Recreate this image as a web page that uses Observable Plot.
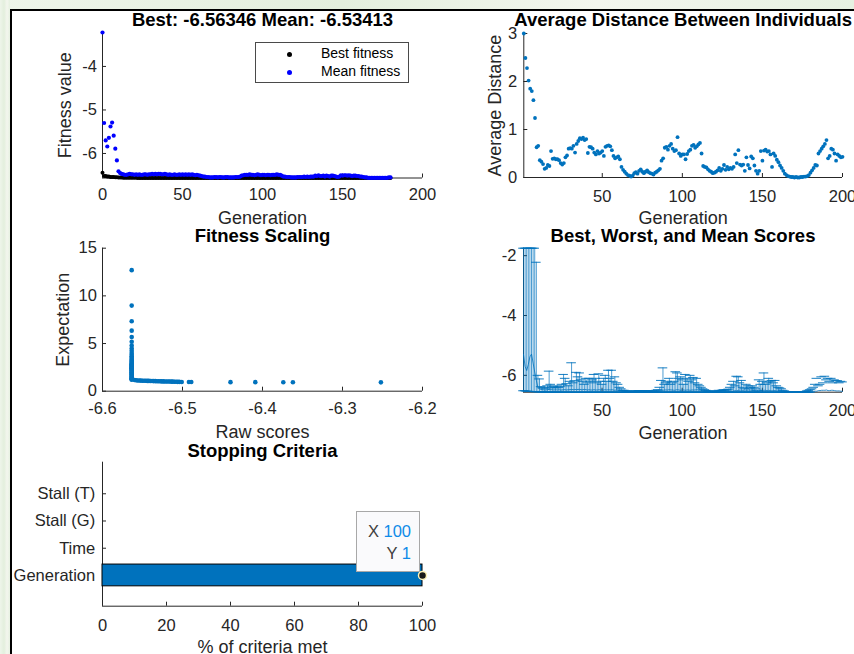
<!DOCTYPE html>
<html><head><meta charset="utf-8">
<script src="https://cdn.jsdelivr.net/npm/d3@7"></script>
<script src="https://cdn.jsdelivr.net/npm/@observablehq/plot@0.6"></script>
<style>
body{margin:0;background:#fff;}
#root{position:relative;width:854px;height:654px;overflow:hidden;background:#fff;font-family:"Liberation Sans",Arial,Helvetica,sans-serif;}
.panel{position:absolute;}
.panel g[aria-label$="tick label"] text{font-size:16.5px;}
.strip{position:absolute;background:linear-gradient(90deg,#eef5ea,#e3efdd 40%,#f3f6ee 70%,#e6f1e1);}
.legend{position:absolute;border:1px solid #4a4a4a;background:#fff;font-size:14px;color:#000;}
.legend .mk{position:absolute;width:5px;height:5px;border-radius:50%;}
.legend .lb{position:absolute;white-space:nowrap;}
.tip{position:absolute;background:#fafafc;border:1px solid #a8a8a8;font-size:16.5px;color:#404040;}
.tip div{position:absolute;right:8px;white-space:nowrap;}
.tip span{color:#0f8be8;}
</style></head><body><div id="root"></div><script>
// ---------------- data ----------------
// Panel 1: best / mean fitness per generation (0..200)
const bestFitness = [-6.440,
-6.515,-6.515,-6.530,-6.530,-6.538,-6.540,-6.540,-6.545,-6.548,-6.550,
-6.552,-6.552,-6.555,-6.555,-6.556,-6.558,-6.558,-6.559,-6.560,-6.560,
-6.560,-6.561,-6.561,-6.561,-6.562,-6.562,-6.562,-6.562,-6.563,-6.563,
-6.5635,-6.5635,-6.5635,-6.5635,-6.5635,-6.5635,-6.5635,-6.5635,-6.5635,-6.5635,
-6.5635,-6.5635,-6.5635,-6.5635,-6.5635,-6.5635,-6.5635,-6.5635,-6.5635,-6.5635,
-6.5635,-6.5635,-6.5635,-6.5635,-6.5635,-6.5635,-6.5635,-6.5635,-6.5635,-6.5635,
-6.5635,-6.5635,-6.5635,-6.5635,-6.5635,-6.5635,-6.5635,-6.5635,-6.5635,-6.5635,
-6.5635,-6.5635,-6.5635,-6.5635,-6.5635,-6.5635,-6.5635,-6.5635,-6.5635,-6.5635,
-6.5635,-6.5635,-6.5635,-6.5635,-6.5635,-6.5635,-6.5635,-6.5635,-6.5635,-6.5635,
-6.5635,-6.5635,-6.5635,-6.5635,-6.5635,-6.5635,-6.5635,-6.5635,-6.5635,-6.5635,
-6.5635,-6.5635,-6.5635,-6.5635,-6.5635,-6.5635,-6.5635,-6.5635,-6.5635,-6.5635,
-6.5635,-6.5635,-6.5635,-6.5635,-6.5635,-6.5635,-6.5635,-6.5635,-6.5635,-6.5635,
-6.5635,-6.5635,-6.5635,-6.5635,-6.5635,-6.5635,-6.5635,-6.5635,-6.5635,-6.5635,
-6.5635,-6.5635,-6.5635,-6.5635,-6.5635,-6.5635,-6.5635,-6.5635,-6.5635,-6.5635,
-6.5635,-6.5635,-6.5635,-6.5635,-6.5635,-6.5635,-6.5635,-6.5635,-6.5635,-6.5635,
-6.5635,-6.5635,-6.5635,-6.5635,-6.5635,-6.5635,-6.5635,-6.5635,-6.5635,-6.5635,
-6.5635,-6.5635,-6.5635,-6.5635,-6.5635,-6.5635,-6.5635,-6.5635,-6.5635,-6.5635,
-6.5635,-6.5635,-6.5635,-6.5635,-6.5635,-6.5635,-6.5635,-6.5635,-6.5635,-6.56346];

const meanFitness = [-3.22,
-5.30,-5.70,-5.84,-5.64,-5.38,-5.29,-5.59,-5.89,-6.16,-6.41,
-6.45,-6.47,-6.48,-6.49,-6.49,-6.48,-6.47,-6.48,-6.48,-6.49,
-6.48,-6.49,-6.48,-6.49,-6.49,-6.48,-6.48,-6.49,-6.48,-6.48,
-6.47,-6.48,-6.47,-6.48,-6.47,-6.47,-6.48,-6.48,-6.47,-6.48,
-6.49,-6.48,-6.49,-6.49,-6.48,-6.49,-6.49,-6.48,-6.49,-6.48,
-6.49,-6.48,-6.49,-6.48,-6.49,-6.48,-6.49,-6.50,-6.49,-6.50,
-6.51,-6.52,-6.53,-6.53,-6.54,-6.54,-6.55,-6.55,-6.55,-6.54,
-6.54,-6.55,-6.54,-6.54,-6.55,-6.55,-6.54,-6.54,-6.55,-6.55,
-6.55,-6.55,-6.54,-6.54,-6.54,-6.53,-6.51,-6.50,-6.49,-6.49,
-6.49,-6.48,-6.49,-6.49,-6.50,-6.49,-6.48,-6.49,-6.50,-6.49,
-6.49,-6.50,-6.49,-6.49,-6.50,-6.49,-6.49,-6.49,-6.48,-6.49,
-6.49,-6.51,-6.53,-6.53,-6.54,-6.54,-6.54,-6.55,-6.55,-6.55,
-6.55,-6.54,-6.54,-6.54,-6.54,-6.53,-6.54,-6.53,-6.54,-6.53,
-6.53,-6.53,-6.51,-6.52,-6.50,-6.52,-6.52,-6.51,-6.53,-6.51,
-6.52,-6.53,-6.51,-6.51,-6.52,-6.53,-6.54,-6.53,-6.50,-6.51,
-6.50,-6.50,-6.51,-6.50,-6.51,-6.52,-6.51,-6.51,-6.52,-6.52,
-6.53,-6.53,-6.54,-6.55,-6.55,-6.56,-6.56,-6.56,-6.56,-6.56,
-6.56,-6.56,-6.56,-6.56,-6.56,-6.56,-6.56,-6.56,-6.55,-6.55,
-6.54,-6.54,-6.53,-6.53,-6.51,-6.51,-6.50,-6.50,-6.50,-6.49,
-6.51,-6.51,-6.50,-6.50,-6.51,-6.52,-6.52,-6.52,-6.53,-6.534];

// Panel 4: worst score per generation (1..200)
const worstScore = [
-1.75,-1.75,-1.75,-1.75,-1.75,-1.75,-1.75,-1.75,-2.22,-6.00,
-6.12,-6.38,-6.42,-6.40,-6.45,-6.35,-5.86,-6.30,-6.40,-6.38,
-6.42,-6.35,-6.40,-6.38,-6.30,-5.97,-6.10,-6.28,-6.35,-6.20,
-5.58,-6.25,-6.18,-5.90,-6.05,-5.92,-6.15,-6.20,-6.30,-6.10,
-6.25,-6.10,-6.20,-6.15,-5.97,-6.10,-6.25,-5.95,-6.20,-6.30,
-6.10,-6.00,-6.20,-5.83,-6.10,-5.83,-6.20,-6.05,-6.25,-6.30,
-6.40,-6.45,-6.50,-6.50,-6.52,-6.52,-6.54,-6.54,-6.53,-6.52,
-6.52,-6.53,-6.51,-6.51,-6.53,-6.53,-6.52,-6.51,-6.52,-6.53,
-6.53,-6.53,-6.52,-6.50,-6.48,-6.40,-6.17,-5.75,-6.30,-6.25,
-6.20,-6.10,-6.30,-6.25,-6.20,-5.88,-5.92,-6.10,-6.05,-6.15,
-6.30,-5.97,-6.10,-6.20,-6.00,-6.15,-6.07,-6.25,-6.10,-6.30,
-6.35,-6.40,-6.45,-6.48,-6.50,-6.52,-6.52,-6.54,-6.54,-6.53,
-6.53,-6.52,-6.50,-6.52,-6.50,-6.48,-6.50,-6.48,-6.46,-6.40,
-6.30,-6.20,-6.35,-6.03,-6.05,-6.25,-6.17,-6.40,-6.45,-6.30,
-6.35,-6.45,-6.40,-6.35,-6.40,-6.45,-6.50,-6.15,-6.30,-6.20,
-5.92,-6.30,-6.25,-6.10,-6.20,-6.17,-6.25,-6.17,-6.35,-6.40,
-6.42,-6.45,-6.50,-6.52,-6.54,-6.55,-6.55,-6.56,-6.56,-6.56,
-6.56,-6.56,-6.56,-6.55,-6.55,-6.55,-6.54,-6.52,-6.50,-6.48,
-6.45,-6.40,-6.30,-6.10,-6.35,-6.30,-6.05,-6.25,-6.03,-6.15,
-6.10,-6.20,-6.10,-6.25,-6.15,-6.18,-6.18,-6.25,-6.20,-6.22];

// Panel 2: average distance per generation (1..200)
const avgDistance = [
3.00,2.49,2.28,2.02,1.85,1.80,1.61,1.24,0.63,0.66,
0.36,0.33,0.28,0.18,0.20,0.26,0.24,0.55,0.39,0.40,
0.38,0.38,0.36,0.30,0.27,0.30,0.42,0.46,0.60,0.61,
0.60,0.66,0.52,0.70,0.76,0.82,0.80,0.83,0.78,0.80,
0.51,0.64,0.63,0.60,0.52,0.48,0.55,0.50,0.52,0.55,
0.45,0.64,0.66,0.67,0.65,0.57,0.45,0.40,0.42,0.44,
0.38,0.22,0.16,0.12,0.08,0.05,0.04,0.02,0.04,0.09,
0.11,0.08,0.14,0.17,0.12,0.09,0.12,0.15,0.11,0.09,
0.08,0.06,0.10,0.12,0.15,0.18,0.35,0.40,0.62,0.64,
0.58,0.66,0.70,0.60,0.55,0.57,0.84,0.50,0.45,0.48,
0.48,0.38,0.49,0.55,0.58,0.66,0.68,0.62,0.65,0.69,
0.72,0.50,0.24,0.22,0.21,0.17,0.14,0.12,0.09,0.10,
0.12,0.15,0.20,0.14,0.18,0.26,0.16,0.22,0.17,0.20,
0.18,0.22,0.48,0.30,0.57,0.27,0.25,0.27,0.14,0.42,
0.26,0.19,0.44,0.40,0.25,0.14,0.08,0.14,0.55,0.35,
0.56,0.58,0.54,0.55,0.48,0.22,0.50,0.45,0.37,0.32,
0.25,0.20,0.14,0.08,0.05,0.03,0.02,0.01,0.01,0.00,
0.01,0.00,0.00,0.01,0.01,0.02,0.02,0.03,0.05,0.10,
0.15,0.20,0.26,0.25,0.50,0.55,0.60,0.65,0.70,0.78,
0.40,0.45,0.60,0.58,0.50,0.35,0.48,0.45,0.42,0.43];

// Panel 3: fitness scaling (raw score, expectation)
const rawScores = [
-6.5635,-6.5635,-6.5635,-6.5635,-6.5635,-6.5635,-6.5635,-6.5635,-6.5635,-6.5635,
-6.5635,-6.5635,-6.5635,-6.5635,-6.5635,-6.5635,-6.5635,-6.5635,-6.5635,-6.5635,
-6.5635,-6.5635,-6.5635,-6.5635,-6.5635,-6.5635,-6.5635,-6.5635,-6.5635,-6.5635,
-6.5635,-6.5635,-6.5635,-6.5635,-6.5635,-6.5635,-6.5635,-6.5635,-6.5635,-6.5635,
-6.5635,-6.5635,-6.5635,-6.5635,-6.5635,-6.5635,-6.5635,
-6.5600,-6.5580,-6.5560,-6.5540,-6.5520,-6.5500,-6.5480,-6.5460,-6.5440,-6.5420,
-6.5400,-6.5380,-6.5360,-6.5340,-6.5320,-6.5300,-6.5280,-6.5260,-6.5240,-6.5220,
-6.5200,-6.5180,-6.5160,-6.5140,-6.5120,-6.5100,-6.5080,-6.5060,-6.5040,-6.5010,
-6.4920,-6.4890,-6.4400,-6.4090,-6.3740,-6.3620,-6.2520];
const expectations = [
12.70,8.98,7.33,6.35,5.68,5.18,4.80,4.49,4.23,4.02,
3.83,3.67,3.52,3.39,3.28,3.18,3.08,2.99,2.91,2.84,
2.77,2.71,2.65,2.59,2.54,2.49,2.44,2.40,2.36,2.32,
2.28,2.20,2.12,2.05,1.98,1.92,1.85,1.78,1.70,1.62,
1.55,1.48,1.42,1.36,1.30,1.25,1.20,
1.17,1.15,1.13,1.12,1.11,1.10,1.09,1.09,1.08,1.08,
1.07,1.07,1.06,1.06,1.05,1.05,1.04,1.03,1.03,1.02,
1.02,1.01,1.01,1.00,1.00,0.99,0.99,0.98,0.98,0.97,
0.96,0.96,0.95,0.95,0.94,0.94,0.93];

// Panel 5: stopping criteria
const criteria = ["Generation", "Time", "Stall (G)", "Stall (T)"];
const criteriaMet = [100, 0, 0, 0];

// ticks
const genTicks0 = [0, 50, 100, 150, 200];
const genTicks = [50, 100, 150, 200];
const fitnessTicks = [-6, -5, -4];
const distanceTicks = [0, 1, 2, 3];
const rawTicks = [-6.6, -6.5, -6.4, -6.3, -6.2];
const expectTicks = [0, 5, 10, 15];
const scoreTicks = [-6, -4, -2];
const pctTicks = [0, 20, 40, 60, 80, 100];
const critTicks = [1, 2, 3, 4];

const bestTitle = "Best: -6.56346 Mean: -6.53413";

// ---------------- drawing ----------------
const ink = "#262626";
const blue = "#0072BD";
const FONT = '"Liberation Sans", Arial, Helvetica, sans-serif';
const fmt = d => String(d);
const style = {fontFamily: FONT, fontSize: "16.5px", color: ink, background: "transparent"};
const root = document.getElementById("root");

function place(el, left, top) {
  el.classList.add("panel");
  el.style.left = left + "px";
  el.style.top = top + "px";
  root.appendChild(el);
  return el;
}
function axisMarks(xTicks, yTicks, xPad, yPad, yFormat = fmt) {
  return [
    Plot.axisX(xTicks, {anchor: "bottom", tickSize: -4, tickPadding: xPad, tickFormat: fmt, label: null, color: ink, fontSize: 16.5}),
    Plot.axisY(yTicks, {anchor: "left", tickSize: -4, tickPadding: yPad, tickFormat: yFormat, label: null, color: ink, fontSize: 16.5})
  ];
}
const centered = {textAnchor: "middle", lineAnchor: "middle"};
function title(str, dy) {
  return Plot.text([str], {text: d => d, frameAnchor: "top", dy, ...centered, fontSize: 18.5, fontWeight: "bold", fill: "#000"});
}
function xLabel(str, dy) {
  return Plot.text([str], {text: d => d, frameAnchor: "bottom", dy, ...centered, fontSize: 18, fill: ink});
}
function yLabel(str, dx) {
  return Plot.text([str], {text: d => d, frameAnchor: "left", dx, rotate: -90, ...centered, fontSize: 18, fill: ink});
}

// outer strips + frame lines
const s1 = document.createElement("div"); s1.className = "strip";
Object.assign(s1.style, {left: "0px", top: "0px", width: "854px", height: "9px"}); root.appendChild(s1);
const s2 = document.createElement("div"); s2.className = "strip";
Object.assign(s2.style, {left: "0px", top: "0px", width: "10px", height: "654px"}); root.appendChild(s2);
const fr = document.createElement("div");
Object.assign(fr.style, {position: "absolute", left: "9.5px", top: "8.5px", width: "860px", height: "660px",
  borderLeft: "2px solid #000", borderTop: "2px solid #000"}); root.appendChild(fr);

// Panel 1
const gens0 = bestFitness.map((_, i) => i);
const fitMin = d3.min(bestFitness), fitMax = d3.max(meanFitness);
const p1 = Plot.plot({
  width: 440, height: 235, marginLeft: 102, marginRight: 18, marginTop: 32, marginBottom: 57.5,
  style, x: {domain: [0, 200]}, y: {domain: [fitMin, fitMax]},
  marks: [
    Plot.ruleX([0], {stroke: ink}),
    Plot.ruleY([fitMin], {stroke: ink}),
    ...axisMarks(genTicks0, fitnessTicks, 13.8, 9.6),
    Plot.dot(gens0, {x: i => i, y: i => bestFitness[i], r: 2, fill: "#000", stroke: null}),
    Plot.dot(gens0, {x: i => i, y: i => meanFitness[i], r: 2.1, fill: "#0000ff", stroke: null}),
    title(bestTitle, -12),
    xLabel("Generation", 40.5),
    yLabel("Fitness value", -37)
  ]
});
place(p1, 0, 0);

// legend for panel 1
const lg = document.createElement("div"); lg.className = "legend";
Object.assign(lg.style, {left: "255px", top: "42px", width: "152px", height: "39px"});
[["Best fitness", "#000", 11], ["Mean fitness", "#0000ff", 29]].forEach(([t, c, y]) => {
  const mk = document.createElement("div"); mk.className = "mk";
  Object.assign(mk.style, {left: "31px", top: (y - 2.5) + "px", background: c}); lg.appendChild(mk);
  const lb = document.createElement("div"); lb.className = "lb"; lb.textContent = t;
  Object.assign(lb.style, {left: "65px", top: (y - 9) + "px"}); lg.appendChild(lb);
});
root.appendChild(lg);

// Panel 2
const distData = avgDistance.map((v, i) => ({gen: i + 1, v}));
const p2 = Plot.plot({
  width: 414, height: 235, marginLeft: 83.3, marginRight: 12, marginTop: 33, marginBottom: 58,
  style, x: {domain: [1, 200]}, y: {domain: [0, 3]},
  marks: [
    Plot.ruleX([1], {stroke: ink}),
    Plot.ruleY([0], {stroke: ink}),
    ...axisMarks(genTicks, distanceTicks, 17, 10.6),
    Plot.dot(distData, {x: "gen", y: "v", r: 1.9, fill: blue, stroke: null}),
    title("Average Distance Between Individuals", -13),
    xLabel("Generation", 40.5),
    yLabel("Average Distance", -29)
  ]
});
place(p2, 440, 0);

// Panel 3
const scaleData = rawScores.map((r, i) => ({r, e: expectations[i]}));
const p3 = Plot.plot({
  width: 440, height: 220, marginLeft: 102, marginRight: 18, marginTop: 22.7, marginBottom: 54.3,
  style, x: {domain: [-6.6, -6.2]}, y: {domain: [0, 15]},
  marks: [
    Plot.ruleX([-6.6], {stroke: ink}),
    Plot.ruleY([0], {stroke: ink}),
    ...axisMarks(rawTicks, expectTicks, 15, 9.6),
    Plot.dot(scaleData, {x: "r", y: "e", r: 2.3, fill: blue, stroke: null}),
    title("Fitness Scaling", -12.3),
    xLabel("Raw scores", 41.5),
    yLabel("Expectation", -39.5)
  ]
});
place(p3, 0, 225);

// Panel 4
const rangeData = worstScore.map((w, i) => ({gen: i + 1, worst: w, best: bestFitness[i + 1], mean: meanFitness[i + 1]}));
const scMin = d3.min(rangeData, d => d.best), scMax = d3.max(worstScore);
const p4 = Plot.plot({
  width: 414, height: 220, marginLeft: 83, marginRight: 12, marginTop: 22.7, marginBottom: 53.3,
  style, x: {domain: [1, 200]}, y: {domain: [scMin, scMax]},
  marks: [
    Plot.ruleX([1], {stroke: ink}),
    Plot.ruleY([scMin], {stroke: ink}),
    ...axisMarks(genTicks, scoreTicks, 15.6, 11),
    Plot.ruleX(rangeData, {x: "gen", y1: "best", y2: "worst", stroke: blue, strokeOpacity: 0.7}),
    Plot.ruleY(rangeData, {y: "worst", x1: d => d.gen - 3, x2: d => d.gen + 3, stroke: blue, strokeOpacity: 0.9}),
    Plot.ruleY(rangeData, {y: "best", x1: d => d.gen - 3, x2: d => d.gen + 3, stroke: blue, strokeOpacity: 0.9}),
    Plot.line(rangeData, {x: "gen", y: "mean", stroke: blue, strokeWidth: 1, strokeOpacity: 0.8}),
    title("Best, Worst, and Mean Scores", -12),
    xLabel("Generation", 40.8)
  ]
});
place(p4, 440, 225);

// Panel 5
const barData = criteria.map((c, i) => ({c, pos: i + 1, v: criteriaMet[i]}));
const tipPoint = barData.find(d => d.v > 0);
const p5 = Plot.plot({
  width: 440, height: 214, marginLeft: 102, marginRight: 18, marginTop: 21.7, marginBottom: 48.3,
  style, x: {domain: [0, 100]}, y: {domain: [-0.13, 5.16]},
  marks: [
    Plot.ruleX([0], {stroke: ink}),
    Plot.ruleY([-0.13], {stroke: ink}),
    ...axisMarks(pctTicks, critTicks, 16.6, 11.3, d => criteria[d - 1]),
    Plot.rect(barData.filter(d => d.v > 0), {x1: 0, x2: "v", y1: d => d.pos - 0.4, y2: d => d.pos + 0.4, fill: blue, stroke: "#000", strokeWidth: 1}),
    Plot.dot([tipPoint], {x: "v", y: "pos", r: 4, fill: "#1a1a1a", stroke: "#fff4b8", strokeWidth: 1.5}),
    title("Stopping Criteria", -11.3),
    xLabel("% of criteria met", 41.5)
  ]
});
place(p5, 0, 440);

// datatip anchored to the data point through the plot's scales
const tx = p5.scale("x").apply(tipPoint.v);
const ty = 440 + p5.scale("y").apply(tipPoint.pos);
const tip = document.createElement("div"); tip.className = "tip";
Object.assign(tip.style, {left: (tx - 66) + "px", top: (ty - 63.5) + "px", width: "62px", height: "59px"});
tip.innerHTML = `<div style="top:10px">X <span>${tipPoint.v}</span></div><div style="top:32px">Y <span>${tipPoint.pos}</span></div>`;
root.appendChild(tip);
</script></body></html>
